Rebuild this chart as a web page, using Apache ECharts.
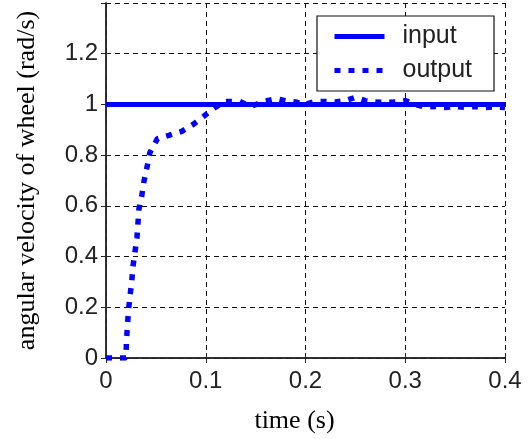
<!DOCTYPE html>
<html>
<head>
<meta charset="utf-8">
<script src="https://cdn.jsdelivr.net/npm/echarts@6/dist/echarts.min.js"></script>
<style>
  html, body { margin: 0; padding: 0; background: #fff; }
  #chart { width: 528px; height: 439px; }
</style>
</head>
<body>
<div id="chart"></div>
<script>
// Wheel speed step response: reference input vs. measured output
const inputTime = [0, 0.4];
const inputValue = [1, 1];

const outputTime = [0, 0.005, 0.01, 0.015, 0.02, 0.0205, 0.0215, 0.0225, 0.024, 0.0258,
  0.027, 0.029, 0.031, 0.032, 0.033, 0.036, 0.038, 0.0415, 0.044, 0.0516,
  0.063, 0.076, 0.087, 0.098, 0.1075, 0.1186, 0.134, 0.145, 0.159, 0.171,
  0.18, 0.19, 0.2, 0.21, 0.22, 0.23, 0.24, 0.25, 0.26, 0.27,
  0.28, 0.29, 0.3, 0.31, 0.32, 0.33, 0.34, 0.35, 0.36, 0.37,
  0.38, 0.39, 0.4];
const outputValue = [0, 0, 0, 0, 0, 0.067, 0.127, 0.186, 0.242, 0.30,
  0.36, 0.417, 0.473, 0.53, 0.587, 0.643, 0.695, 0.76, 0.81, 0.865,
  0.878, 0.894, 0.92, 0.953, 0.983, 1.012, 1.012, 0.992, 1.013, 1.022,
  1.015, 1.01, 1.0, 1.012, 1.012, 1.01, 1.015, 1.028, 1.015, 1.01,
  1.008, 1.01, 1.015, 1.0, 0.99, 0.992, 0.988, 0.992, 0.988, 0.992,
  0.988, 0.99, 0.988];

const xTickLabels = ['0', '0.1', '0.2', '0.3', '0.4'];
const yTickLabels = ['0', '0.2', '0.4', '0.6', '0.8', '1', '1.2', '1.4'];

const seriesNames = ['input', 'output'];
const xTitle = 'time (s)';
const yTitle = 'angular velocity of wheel (rad/s)';

const pairs = (xs, ys) => xs.map((x, i) => [x, ys[i]]);

const blue = '#0000ff';
const ink = '#262626';
const sansFont = '"Liberation Sans", Arial, sans-serif';
const serifFont = '"Liberation Serif", "Times New Roman", serif';
const gridDash = [5, 4];

const chart = echarts.init(document.getElementById('chart'), null, { renderer: 'canvas' });

// top and right frame edges with inward ticks
const boxAxis = {
  axisLine: { show: true, lineStyle: { color: ink, width: 1.5 } },
  axisTick: { show: true, inside: true, length: 5, lineStyle: { color: ink, width: 1 } },
  axisLabel: { show: false },
  splitLine: { show: false }
};

chart.setOption({
  animation: false,
  backgroundColor: '#fff',
  grid: { left: 106, top: 3, right: 23, bottom: 80, containLabel: false },
  legend: {
    data: seriesNames,
    orient: 'vertical',
    left: 317,
    top: 16,
    padding: [8, 22, 8, 15],
    itemWidth: 50,
    itemHeight: 14,
    itemGap: 9,
    borderColor: '#111',
    borderWidth: 1.2,
    borderRadius: 0,
    backgroundColor: '#fff',
    itemStyle: { opacity: 0 },
    lineStyle: { width: 5 },
    textStyle: {
      fontFamily: sansFont,
      fontSize: 25,
      lineHeight: 25,
      color: '#222',
      padding: [0, 0, 0, 13]
    }
  },
  xAxis: [{
    type: 'value',
    min: 0,
    max: 0.4,
    interval: 0.1,
    name: xTitle,
    nameLocation: 'middle',
    nameGap: 50,
    nameTextStyle: {
      fontFamily: serifFont,
      fontSize: 26,
      color: '#000',
      padding: [0, 22, 0, 0]
    },
    axisLine: { show: true, lineStyle: { color: ink, width: 1.5 } },
    axisTick: { show: true, inside: true, length: 5, lineStyle: { color: ink } },
    axisLabel: {
      margin: 11,
      fontFamily: sansFont,
      fontSize: 24,
      color: '#222',
      formatter: (v, i) => xTickLabels[i]
    },
    splitLine: { show: true, lineStyle: { color: '#111', width: 1, type: gridDash } }
  }, Object.assign({ type: 'value', position: 'top', min: 0, max: 0.4, interval: 0.1 }, boxAxis)],
  yAxis: [{
    type: 'value',
    min: 0,
    max: 1.4,
    interval: 0.2,
    name: yTitle,
    nameLocation: 'middle',
    nameGap: 66,
    nameTextStyle: {
      fontFamily: serifFont,
      fontSize: 26,
      color: '#000'
    },
    axisLine: { show: true, lineStyle: { color: ink, width: 1.5 } },
    axisTick: { show: true, inside: true, length: 5, lineStyle: { color: ink } },
    axisLabel: {
      margin: 8,
      showMaxLabel: false,
      fontFamily: sansFont,
      fontSize: 24,
      color: '#222',
      formatter: (v, i) => yTickLabels[i]
    },
    splitLine: { show: true, lineStyle: { color: '#111', width: 1, type: gridDash } }
  }, Object.assign({ type: 'value', position: 'right', min: 0, max: 1.4, interval: 0.2 }, boxAxis)],
  series: [{
    name: seriesNames[0],
    type: 'line',
    data: pairs(inputTime, inputValue),
    symbol: 'none',
    color: blue,
    lineStyle: { color: blue, width: 5 },
    z: 2
  }, {
    name: seriesNames[1],
    type: 'line',
    data: pairs(outputTime, outputValue),
    symbol: 'none',
    color: blue,
    lineStyle: { color: blue, width: 5.5, type: [6, 8], cap: 'butt' },
    z: 3
  }]
});
</script>
</body>
</html>
